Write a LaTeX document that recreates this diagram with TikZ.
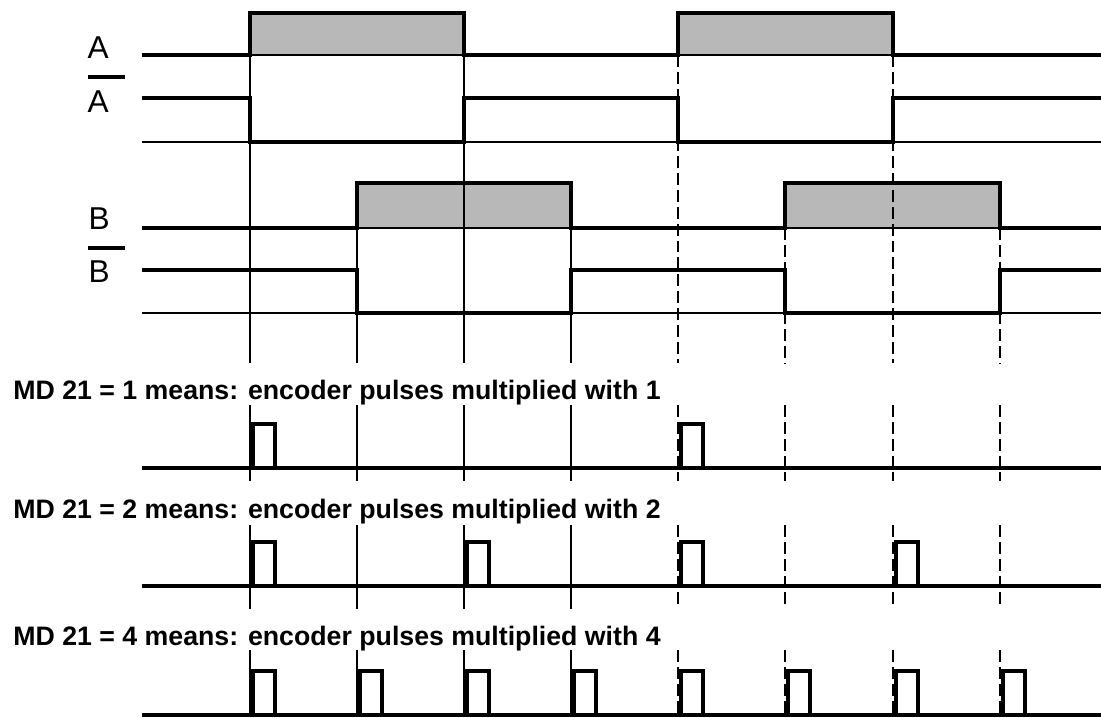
\documentclass[tikz,border=0pt]{standalone}
\usepackage{fontspec}
\setmainfont{Liberation Sans}
\usetikzlibrary{calc}

\begin{document}
\begin{tikzpicture}[x=0.02cm, y=-0.02cm,
  sig/.style={line width=2.1pt},
  hair/.style={line width=0.6pt},
  dashln/.style={line width=0.6pt, dash pattern=on 6.8pt off 2.8pt},
  hi/.style={fill=black!28, draw, line width=0.6pt},
  bar/.style={line width=2.6pt},
  lbl/.style={font=\fontsize{18}{18}\selectfont, anchor=base east, inner sep=0pt},
  md/.style={font=\fontsize{15.2}{18}\selectfont\bfseries, anchor=base west, inner sep=0pt}]
  \useasboundingbox (0,0) rectangle (1101,717);

  % high phases of A and B
  \foreach \a/\b in {250/464,678/893} {\draw[hi] (\a,13) rectangle (\b,55);}
  \foreach \a/\b in {357/571,785/1000} {\draw[hi] (\a,183) rectangle (\b,228);}

  % edge markers
  \foreach \x/\t in {250/55,357/228,464/55,571/228} {
    \foreach \a/\b in {\t/363,405/481,525/609,650/717} {\draw[hair] (\x,\a) -- (\x,\b);}
  }
  \foreach \x/\t in {678/55,785/228,893/55,1000/228} {
    \foreach \a/\b in {\t/363,405/481,525/609,650/717} {\draw[dashln] (\x,\a) -- (\x,\b);}
  }

  % signals
  \draw[sig] (142,55) -| (250,13) -| (464,55) -| (678,13) -| (893,55) -- (1101,55);
  \draw[hair] (142,142) -- (1101,142);
  \draw[sig] (142,98) -| (250,142) -| (464,98) -| (678,142) -| (893,98) -- (1101,98);
  \draw[sig] (142,228) -| (357,183) -| (571,228) -| (785,183) -| (1000,228) -- (1101,228);
  \draw[hair] (142,313) -- (1101,313);
  \draw[sig] (142,270) -| (357,313) -| (571,270) -| (785,313) -| (1000,270) -- (1101,270);

  \node[lbl] (A) at (109,58) {A};
  \node[lbl] (An) at (109,112) {A};
  \draw[bar] (88,77) -- (125,77);
  \node[lbl] (B) at (110,229) {B};
  \node[lbl] (Bn) at (110,282) {B};
  \draw[bar] (88,248) -- (125,248);

  % counting pulses
  \foreach \n/\yt/\yb/\pl in {1/399/468/{250,678}, 2/518/586/{250,464,678,893}, 4/645/715/{250,357,464,571,678,785,893,1000}} {
    \node[md] (md\n) at (13,\yt) {MD 21 = \n\ means: encoder pulses multiplied with \n};
    \draw[sig] (142,\yb) -- (1101,\yb);
    \foreach \p in \pl {\draw[sig] (\p+3,\yb) -- ++(0,-44) -- ++(22,0) -- ++(0,44);}
  }
\end{tikzpicture}
\end{document}
